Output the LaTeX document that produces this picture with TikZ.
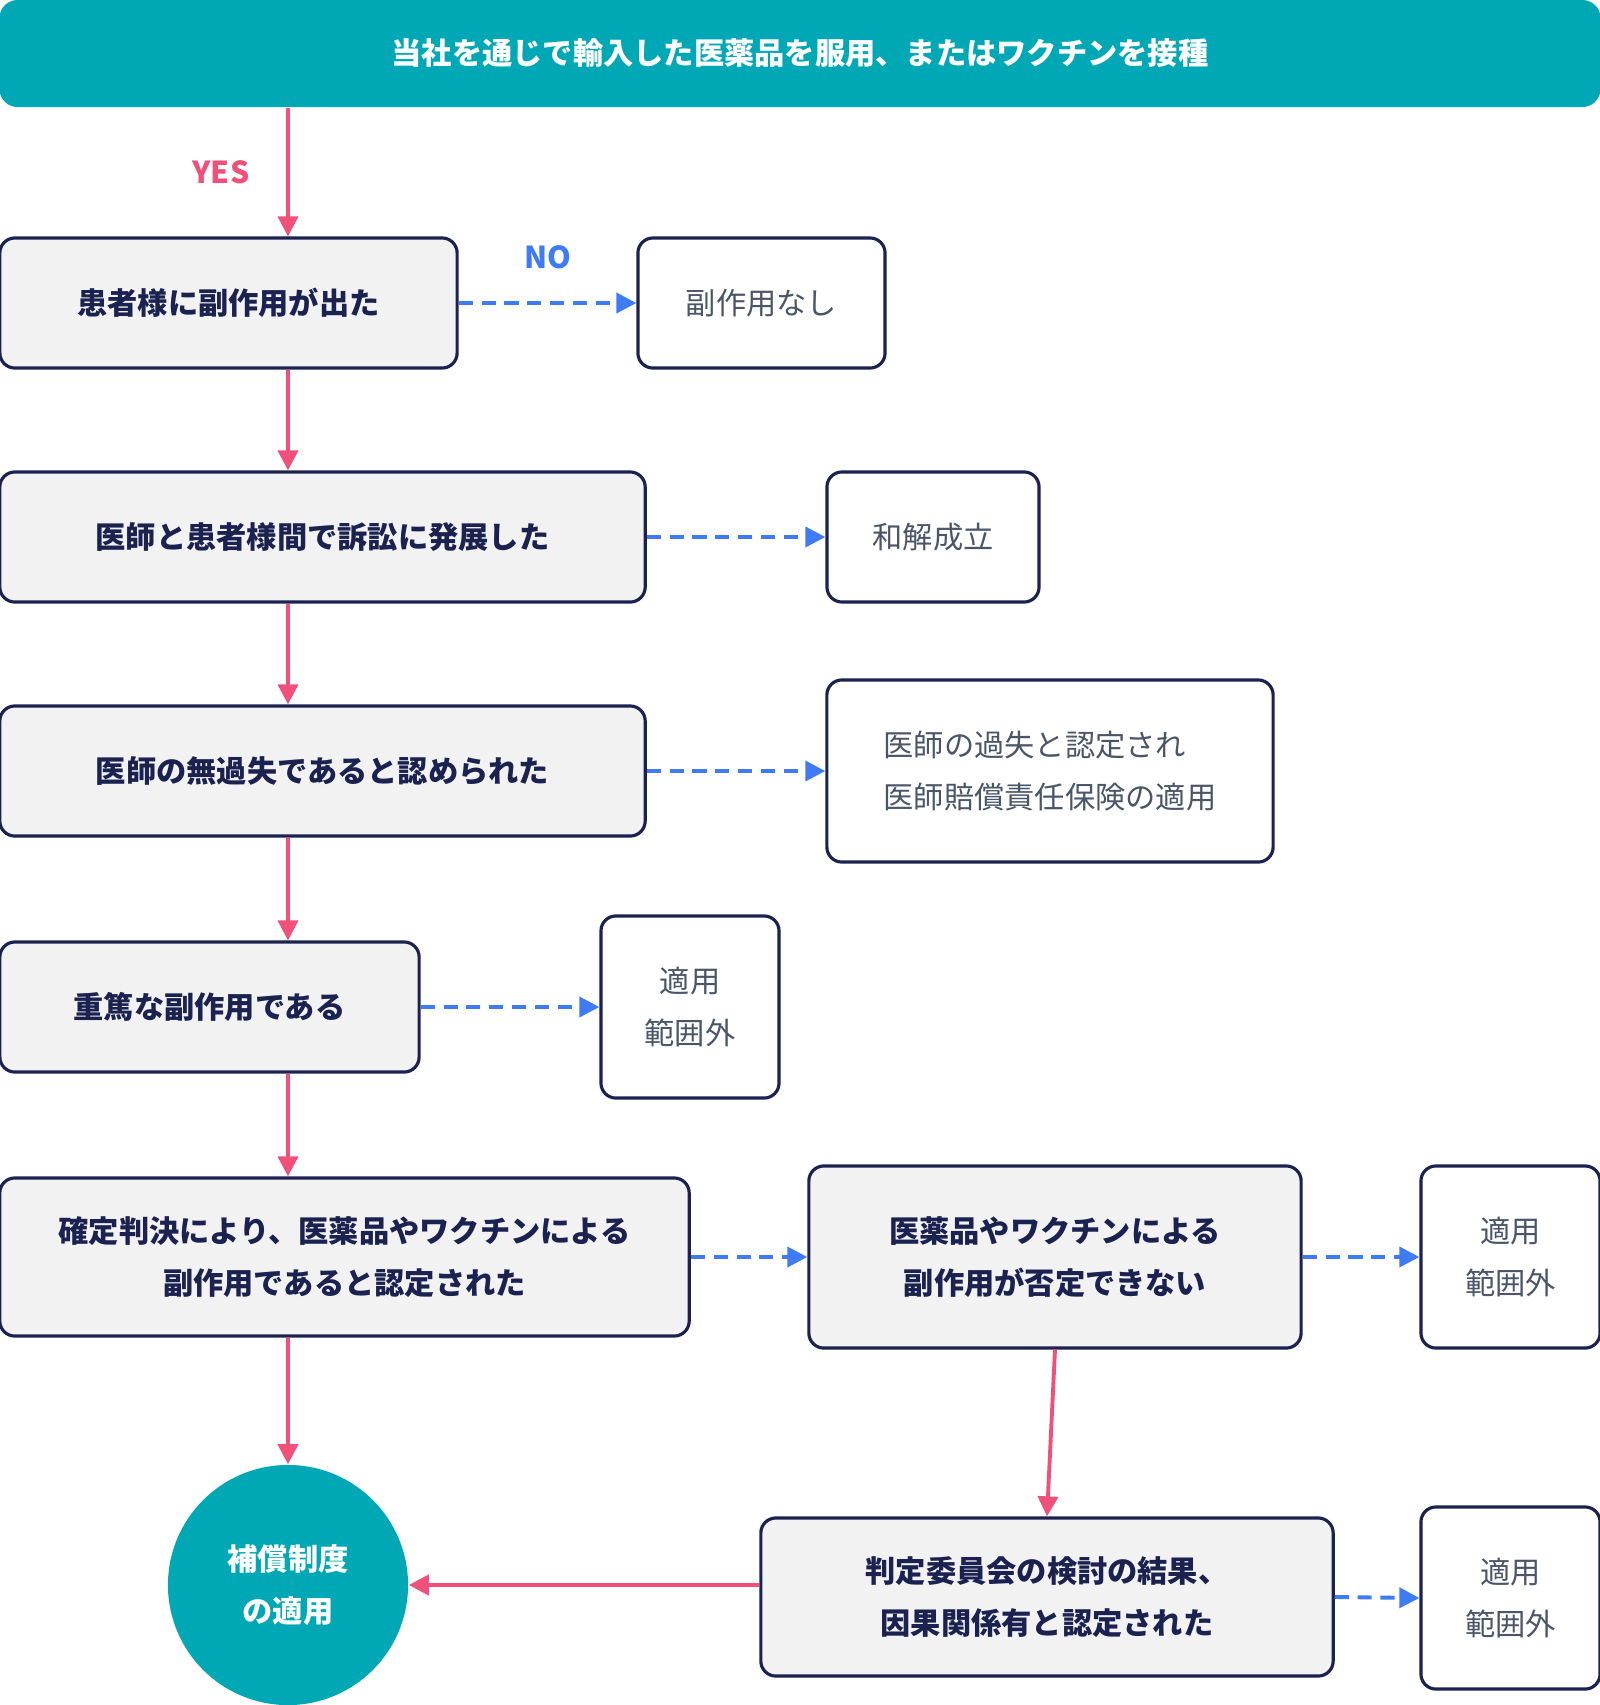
\documentclass[tikz,border=0pt]{standalone}
\usepackage{fontspec}
\setmainfont{Noto Sans CJK JP}
\usetikzlibrary{arrows.meta,positioning}
\definecolor{teal}{HTML}{00A8B5}
\definecolor{navy}{HTML}{1B2250}
\definecolor{boxgray}{HTML}{F2F2F3}
\definecolor{softtxt}{HTML}{4A5568}
\definecolor{pinkline}{HTML}{F0507A}
\definecolor{blueline}{HTML}{3F7BF5}
\tikzset{
  check/.style={draw=navy,line width=0.9pt,fill=boxgray,rounded corners=0.15cm,
    text=navy,font=\fontsize{8.6}{15}\selectfont\bfseries,align=center},
  result/.style={draw=navy,line width=0.9pt,fill=white,rounded corners=0.15cm,
    text=softtxt,font=\fontsize{8.6}{15}\selectfont,align=center},
  yesline/.style={draw=pinkline,line width=1.1pt,-{Triangle[length=0.2cm,width=0.2cm]}},
  noline/.style={draw=blueline,line width=1.1pt,dash pattern=on 4pt off 2.5pt,-{Triangle[length=0.2cm,width=0.2cm]}}
}
\begin{document}
\begin{tikzpicture}[x=0.01cm,y=-0.01cm,line join=round]
\useasboundingbox (0,0) rectangle (1600,1705);
% start banner
\node[fill=teal,rounded corners=0.18cm,minimum width=16cm,minimum height=1.07cm,
  text=white,font=\fontsize{8.6}{15}\selectfont\bfseries] (top) at (800,53.5)
  {当社を通じで輸入した医薬品を服用、またはワクチンを接種};
\coordinate (spine) at (288,0);
% main chain
\node[check,minimum width=4.57cm,minimum height=1.3cm] (b1) at (228.5,303) {患者様に副作用が出た};
\node[check,minimum width=6.45cm,minimum height=1.3cm] (b2) at (322.5,537) {医師と患者様間で訴訟に発展した};
\node[check,minimum width=6.45cm,minimum height=1.3cm] (b3) at (322.5,771) {医師の無過失であると認められた};
\node[check,minimum width=4.19cm,minimum height=1.3cm] (b4) at (209.5,1007) {重篤な副作用である};
\node[check,minimum width=6.89cm,minimum height=1.58cm] (b5) at (344.5,1257) {確定判決により、医薬品やワクチンによる\\副作用であると認定された};
\node[check,minimum width=4.92cm,minimum height=1.82cm] (b6) at (1055,1257) {医薬品やワクチンによる\\副作用が否定できない};
\node[check,minimum width=5.72cm,minimum height=1.58cm] (b7) at (1047,1597) {判定委員会の検討の結果、\\因果関係有と認定された};
\node[circle,fill=teal,minimum size=2.4cm,text=white,align=center,
  font=\fontsize{8.6}{15}\selectfont\bfseries] (ok) at (288,1585) {補償制度\\の適用};
% outcomes
\node[result,minimum width=2.47cm,minimum height=1.3cm] (n1) at (761.5,303) {副作用なし};
\node[result,minimum width=2.12cm,minimum height=1.3cm] (n2) at (933,537) {和解成立};
\node[result,minimum width=4.46cm,minimum height=1.82cm,align=left] (n3) at (1050,771) {医師の過失と認定され\\医師賠償責任保険の適用};
\node[result,minimum width=1.78cm,minimum height=1.82cm] (n4) at (690,1007) {適用\\範囲外};
\node[result,minimum width=1.79cm,minimum height=1.82cm] (n5) at (1510.5,1257) {適用\\範囲外};
\node[result,minimum width=1.79cm,minimum height=1.82cm] (n6) at (1510.5,1598) {適用\\範囲外};
% yes path
\draw[yesline] (top.south -| spine) -- (b1.north -| spine)
  node[midway,left=0.25cm,text=pinkline,font=\fontsize{8.6}{10}\selectfont\bfseries] {YES};
\draw[yesline] (b1.south -| spine) -- (b2.north -| spine);
\draw[yesline] (b2.south -| spine) -- (b3.north -| spine);
\draw[yesline] (b3.south -| spine) -- (b4.north -| spine);
\draw[yesline] (b4.south -| spine) -- (b5.north -| spine);
\draw[yesline] (b5.south -| spine) -- (ok.north);
\draw[yesline] (b6.south) -- (b7.north);
\draw[yesline] (b7.west |- ok.east) -- (ok.east);
% no path
\draw[noline] (b1.east) -- (n1.west)
  node[midway,above=0.2cm,text=blueline,font=\fontsize{8.6}{10}\selectfont\bfseries] {NO};
\draw[noline] (b2.east) -- (n2.west);
\draw[noline] (b3.east) -- (n3.west);
\draw[noline] (b4.east) -- (n4.west);
\draw[noline] (b5.east) -- (b6.west);
\draw[noline] (b6.east) -- (n5.west);
\draw[noline] (b7.east) -- (n6.west);
\end{tikzpicture}
\end{document}
